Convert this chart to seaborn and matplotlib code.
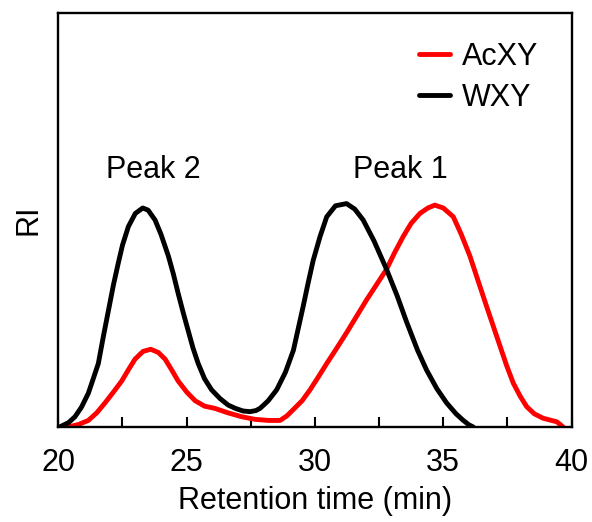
import matplotlib
matplotlib.use("Agg")
import matplotlib.pyplot as plt
import pandas as pd
import seaborn as sns
from matplotlib.ticker import MultipleLocator

# ── Data (RI normalised to first WXY peak) ───────────────────────────────
wxy_time = [20.05, 20.4, 20.65, 20.9, 21.17, 21.36, 21.56, 21.75, 21.95, 22.15,
            22.34, 22.5, 22.73, 23.0, 23.29, 23.5, 23.77, 24.0, 24.29, 24.48,
            24.67, 24.86, 25.06, 25.25, 25.45, 25.7, 25.97, 26.3, 26.62, 26.9,
            27.2, 27.47, 27.7, 27.86, 28.0, 28.18, 28.51, 28.85, 29.16, 29.35,
            29.54, 29.73, 29.93, 30.2, 30.46, 30.8, 31.23, 31.55, 31.88, 32.3,
            32.79, 33.2, 33.57, 34.0, 34.35, 34.75, 35.13, 35.5, 35.78, 36.0,
            36.17]
wxy_ri = [0.0, 0.02, 0.047, 0.09, 0.154, 0.22, 0.29, 0.41, 0.53, 0.65,
          0.75, 0.83, 0.915, 0.975, 1.0, 0.99, 0.945, 0.88, 0.78, 0.70,
          0.61, 0.525, 0.44, 0.36, 0.29, 0.22, 0.17, 0.13, 0.10, 0.085,
          0.073, 0.07, 0.075, 0.085, 0.10, 0.12, 0.17, 0.25, 0.35, 0.45,
          0.55, 0.655, 0.76, 0.87, 0.96, 1.01, 1.02, 0.995, 0.945, 0.85,
          0.72, 0.60, 0.48, 0.35, 0.26, 0.175, 0.11, 0.06, 0.03, 0.01,
          0.0]

acxy_time = [20.39, 20.8, 21.17, 21.5, 21.82, 22.15, 22.47, 22.75, 22.99, 23.3,
             23.6, 23.9, 24.16, 24.42, 24.67, 25.0, 25.33, 25.7, 26.1, 26.6,
             27.14, 27.66, 28.18, 28.64, 28.9, 29.16, 29.5, 29.81, 30.14, 30.46,
             30.85, 31.23, 31.62, 32.01, 32.4, 32.79, 33.1, 33.44, 33.75, 34.09,
             34.4, 34.67, 35.0, 35.39, 35.7, 36.04, 36.35, 36.69, 36.95, 37.21,
             37.47, 37.73, 38.0, 38.25, 38.55, 38.89, 39.15, 39.42, 39.55, 39.67]
acxy_ri = [0.0, 0.012, 0.03, 0.065, 0.11, 0.16, 0.21, 0.265, 0.31, 0.345,
           0.355, 0.34, 0.31, 0.26, 0.21, 0.16, 0.12, 0.095, 0.085, 0.065,
           0.047, 0.035, 0.03, 0.03, 0.05, 0.08, 0.12, 0.17, 0.23, 0.29,
           0.36, 0.43, 0.505, 0.58, 0.65, 0.72, 0.795, 0.87, 0.93, 0.975,
           1.0, 1.013, 1.0, 0.96, 0.88, 0.78, 0.67, 0.55, 0.46, 0.37,
           0.28, 0.20, 0.14, 0.093, 0.06, 0.04, 0.032, 0.024, 0.012, 0.0]

series_names = ["AcXY", "WXY"]
series_colors = {"AcXY": "#FF0000", "WXY": "#000000"}

peak_labels = ["Peak 2", "Peak 1"]
peak_label_x = [23.69, 33.34]
peak_label_y = 1.136

x_ticks = [20, 25, 30, 35, 40]

df = pd.concat([
    pd.DataFrame({"time": acxy_time, "ri": acxy_ri, "sample": "AcXY"}),
    pd.DataFrame({"time": wxy_time, "ri": wxy_ri, "sample": "WXY"}),
], ignore_index=True)

# ── Plot ──────────────────────────────────────────────────────────────────
sns.set_style("white")
plt.rcParams["font.family"] = ["Liberation Sans", "DejaVu Sans"]
plt.rcParams["text.color"] = "black"
plt.rcParams["axes.labelcolor"] = "black"
plt.rcParams["xtick.color"] = "black"

fig = plt.figure(figsize=(5.92, 5.22), dpi=100)
ax = fig.add_axes([0.0985, 0.182, 0.867, 0.793])

sns.lineplot(
    data=df, x="time", y="ri", hue="sample", hue_order=series_names,
    palette=series_colors, estimator=None, sort=False,
    linewidth=3.5, ax=ax,
)
for line in ax.get_lines():
    line.set_solid_joinstyle("round")
    line.set_solid_capstyle("round")

for lbl, xp in zip(peak_labels, peak_label_x):
    ax.text(xp, peak_label_y, lbl, ha="center", va="baseline", fontsize=22,
            color="black")

ax.set_xlim(20, 40)
ax.set_ylim(0, 1.89)
ax.xaxis.set_major_locator(MultipleLocator(5))
ax.xaxis.set_minor_locator(MultipleLocator(2.5))
ax.set_xticks(x_ticks)
ax.set_xticklabels([str(t) for t in x_ticks])
ax.set_yticks([])
ax.tick_params(axis="x", which="both", direction="in", length=7, width=1.5,
               color="black", labelcolor="black", bottom=True, top=False,
               pad=15, labelsize=22)

ax.set_xlabel("Retention time (min)", fontsize=22, labelpad=6, color="black")
ax.set_ylabel("RI", fontsize=22, labelpad=11, color="black")

for sp in ax.spines.values():
    sp.set_visible(True)
    sp.set_color("black")
    sp.set_linewidth(1.7)

leg = ax.legend(
    loc="upper right", bbox_to_anchor=(0.935, 0.93), frameon=False,
    fontsize=22, handlelength=1.0, handletextpad=0.4, labelspacing=0.35,
    borderpad=0, borderaxespad=0,
)
for t in leg.get_texts():
    t.set_color("black")
for h in leg.get_lines():
    h.set_linewidth(3.5)

fig.savefig("out.png", dpi=100)
